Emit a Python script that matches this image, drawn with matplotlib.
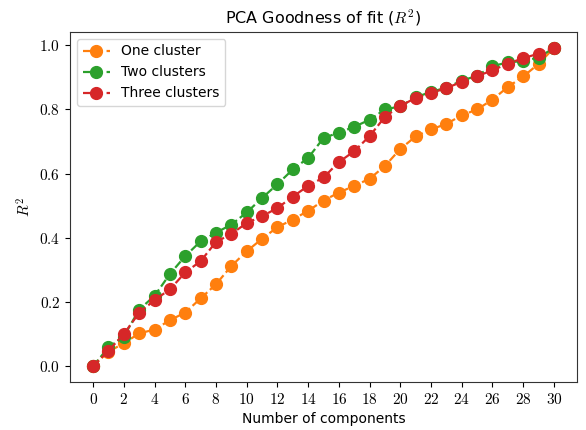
import matplotlib
matplotlib.use("Agg")
import matplotlib.pyplot as plt
from matplotlib.ticker import FuncFormatter, MultipleLocator

components = list(range(31))

one_cluster = [
    0.0, 0.045, 0.071, 0.102, 0.114, 0.143, 0.167, 0.211, 0.255, 0.312,
    0.358, 0.397, 0.433, 0.457, 0.484, 0.516, 0.541, 0.562, 0.584, 0.624,
    0.677, 0.716, 0.738, 0.755, 0.782, 0.800, 0.831, 0.870, 0.903, 0.942,
    0.992,
]
two_clusters = [
    0.0, 0.058, 0.092, 0.176, 0.219, 0.287, 0.343, 0.389, 0.416, 0.441,
    0.479, 0.524, 0.567, 0.613, 0.649, 0.711, 0.728, 0.746, 0.768, 0.800,
    0.810, 0.838, 0.855, 0.868, 0.890, 0.905, 0.935, 0.947, 0.951, 0.962,
    0.992,
]
three_clusters = [
    0.0, 0.048, 0.100, 0.166, 0.206, 0.239, 0.292, 0.327, 0.387, 0.412,
    0.446, 0.467, 0.493, 0.528, 0.562, 0.588, 0.636, 0.670, 0.717, 0.777,
    0.811, 0.836, 0.851, 0.867, 0.886, 0.904, 0.922, 0.943, 0.960, 0.974,
    0.992,
]

plt.rcParams["mathtext.fontset"] = "cm"
plt.rcParams["font.family"] = ["DejaVu Sans"]

fig = plt.figure(figsize=(5.86, 4.30), dpi=100)
ax = fig.add_axes([0.1195, 0.1116, 0.8651, 0.814])

series = [
    ("One cluster", one_cluster, "#ff7f0e"),
    ("Two clusters", two_clusters, "#2ca02c"),
    ("Three clusters", three_clusters, "#d62728"),
]
for label, values, color in series:
    ax.plot(components, values, linestyle="--", marker="o", markersize=8.5,
            linewidth=1.6, color=color, label=label)

ax.xaxis.set_major_locator(MultipleLocator(2))
ax.yaxis.set_major_locator(MultipleLocator(0.2))
ax.xaxis.set_major_formatter(FuncFormatter(lambda v, p: f"${v:.0f}$"))
ax.yaxis.set_major_formatter(FuncFormatter(lambda v, p: f"${v:.1f}$"))
ax.tick_params(labelsize=11)
for spine in ax.spines.values():
    spine.set_color("#333333")

ax.set_title("PCA Goodness of fit ($R^2$)", fontsize=11.5)
ax.set_xlabel("Number of components", fontsize=10)
ax.set_ylabel("$R^2$", fontsize=11)
ax.legend(loc="upper left", fontsize=10)

fig.savefig("out.png", dpi=100)
